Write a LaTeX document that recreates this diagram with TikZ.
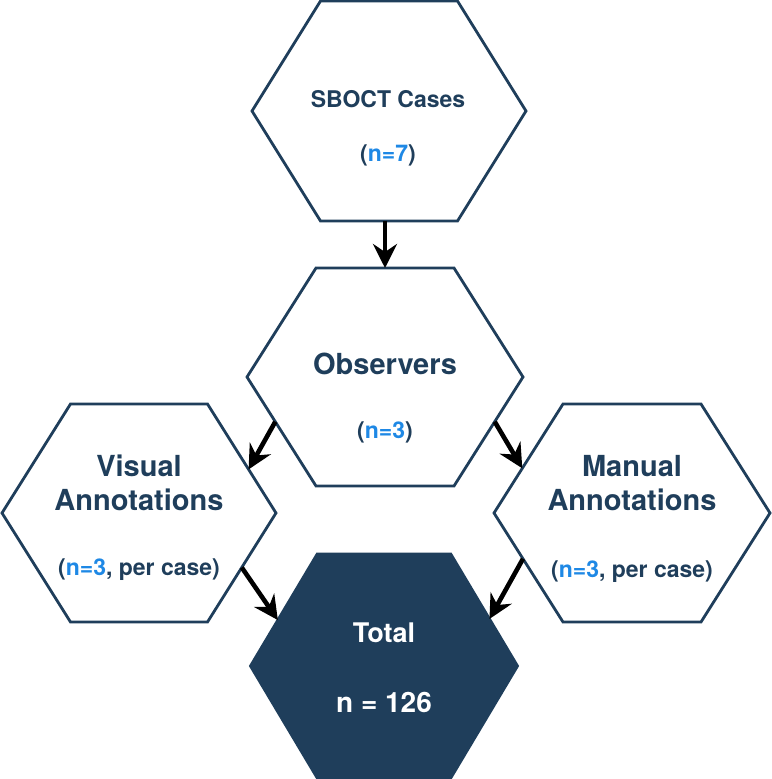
\documentclass[tikz,border=0pt]{standalone}
\usepackage{fontspec}
\setmainfont{TeX Gyre Heros}
\usepackage{tikz}
\usetikzlibrary{calc,positioning,arrows.meta}

\definecolor{navy}{RGB}{31,62,91}
\definecolor{nblue}{RGB}{30,136,229}

\tikzset{
  hexbox/.style 2 args={minimum width=#1, minimum height=#2, inner sep=0pt, outer sep=0pt},
  hexline/.style={draw=navy, line width=2.8pt, line join=miter},
  hexfill/.style={draw=navy, fill=navy, line width=2.8pt},
  title/.style={text=navy, font=\fontsize{29}{34}\selectfont\bfseries, align=center, inner sep=0pt, anchor=base},
  count/.style={text=navy, font=\fontsize{23}{27}\selectfont\bfseries, inner sep=0pt, anchor=base},
  flow/.style={-{Stealth[length=24pt,width=24pt,inset=8pt]}, line width=4.6pt, black}
}

% hexagon drawn round an empty node, corners kept as coordinates
\newcommand{\hexdraw}[2]{%
  \coordinate (#1-nw) at ($(#1.north west)!.25!(#1.north east)$);
  \coordinate (#1-ne) at ($(#1.north west)!.75!(#1.north east)$);
  \coordinate (#1-sw) at ($(#1.south west)!.25!(#1.south east)$);
  \coordinate (#1-se) at ($(#1.south west)!.75!(#1.south east)$);
  \draw[#2] (#1.west) -- (#1-nw) -- (#1-ne) -- (#1.east) -- (#1-se) -- (#1-sw) -- cycle;
}
\newcommand{\nb}[1]{\textcolor{nblue}{#1}}

\begin{document}
\begin{tikzpicture}[x=1pt,y=-1pt]
	\useasboundingbox (0,0) rectangle (771,779);

	\node[hexbox={274pt}{220pt}] (sboct) at (389,111) {};
	\node[hexbox={276pt}{218pt}] (obs) at (385,377) {};
	\node[hexbox={274pt}{218pt}] (visual) at (139,513) {};
	\node[hexbox={276pt}{218pt}] (manual) at (632,513) {};
	\node[hexbox={267pt}{224pt}] (total) at (384,666) {};

	\hexdraw{sboct}{hexline}
	\hexdraw{obs}{hexline}
	\hexdraw{visual}{hexline}
	\hexdraw{manual}{hexline}
	\hexdraw{total}{hexfill}

	\node[count] (sboct-t) at (388,107) {SBOCT Cases};
	\node[count] (sboct-n) at (388,161) {(\nb{n=7})};

	\node[title] (obs-t) at (385,374) {Observers};
	\node[count] (obs-n) at (385,438) {(\nb{n=3})};

	\node[title] (visual-t) at (139,510) {Visual\\Annotations};
	\node[count] (visual-n) at (139,575) {(\nb{n=3}, per case)};

	\node[title] (manual-t) at (632,510) {Manual\\Annotations};
	\node[count] (manual-n) at (632,577) {(\nb{n=3}, per case)};

	\node[title, text=white, font=\fontsize{27}{32}\selectfont\bfseries] (total-t) at (384,642) {Total};
	\node[title, text=white, font=\fontsize{28}{32}\selectfont\bfseries] (total-n) at (384,712) {n = 126};

	% arrows
	\draw[flow] (sboct.south -| obs.north) -- (obs.north);
	\draw[flow] ($(obs.west)!.41!(obs-sw)$) -- ($(visual-ne)!.6!(visual.east)$);
	\draw[flow] ($(obs.east)!.41!(obs-se)$) -- ($(manual-nw)!.59!(manual.west)$);
	\draw[flow] ($(visual.east)!.5!(visual-se)$) -- ($(total-nw)!.59!(total.west)$);
	\draw[flow] ($(manual.west)!.42!(manual-sw)$) -- ($(total-ne)!.58!(total.east)$);
\end{tikzpicture}
\end{document}
